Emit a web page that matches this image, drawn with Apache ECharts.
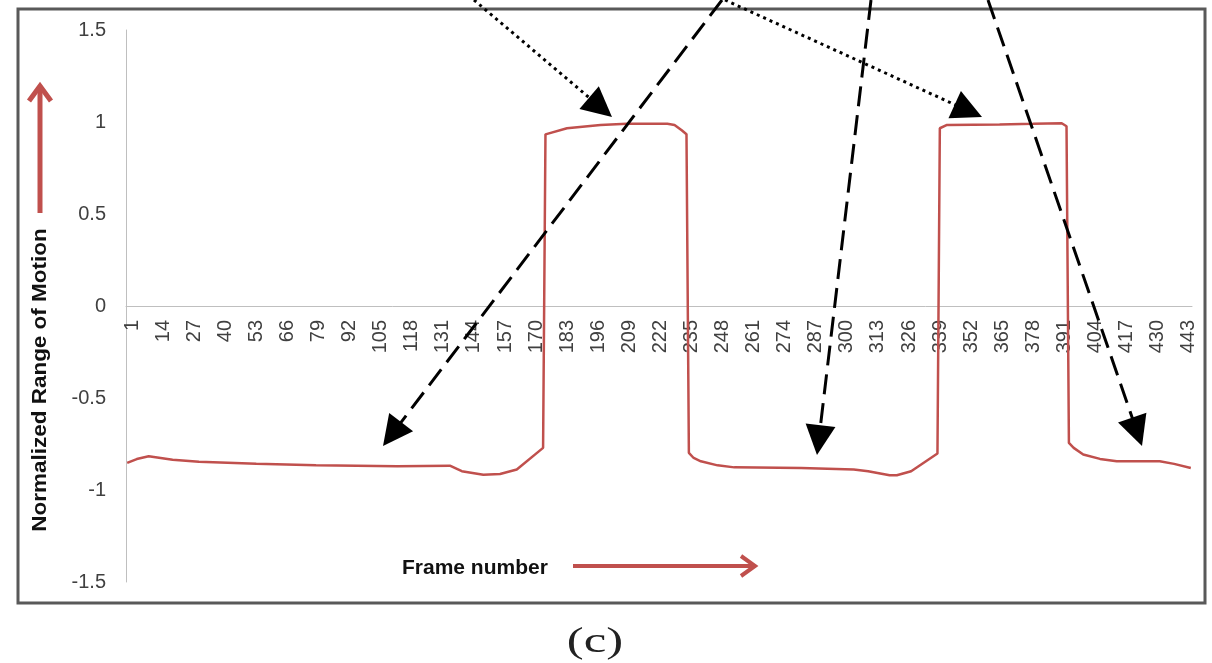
<!DOCTYPE html>
<html>
<head>
<meta charset="utf-8">
<script src="https://cdn.jsdelivr.net/npm/echarts@6/dist/echarts.min.js"></script>
<style>
  html, body { margin: 0; padding: 0; background: #ffffff; }
  #chart { width: 1212px; height: 663px; }
</style>
</head>
<body>
<div id="chart"></div>
<script>
// ---- data ----
const frameCount = 446;
const categories = Array.from({ length: frameCount }, (_, i) => String(i + 1));
const keyFrames = [1, 5, 10, 20, 31, 55, 80, 114, 136, 141,
  150, 157, 164, 175, 176, 185, 199, 210, 227, 230,
  233, 235, 236, 238, 241, 248, 255, 283, 305, 311,
  320, 323, 329, 340, 341, 344, 366, 380, 392, 394,
  395, 397, 401, 408, 415, 433, 439, 446];
const rangeOfMotion = [-0.853, -0.832, -0.817, -0.835, -0.847, -0.858, -0.866, -0.871, -0.868, -0.898,
  -0.917, -0.913, -0.889, -0.771, 0.933, 0.966, 0.984, 0.99, 0.99, 0.984,
  0.955, 0.933, -0.798, -0.826, -0.844, -0.866, -0.877, -0.88, -0.889, -0.898,
  -0.92, -0.92, -0.898, -0.802, 0.966, 0.984, 0.987, 0.99, 0.993, 0.977,
  -0.744, -0.771, -0.807, -0.831, -0.844, -0.844, -0.858, -0.88];
const yMin = -1.5, yMax = 1.5, yStep = 0.5;
const xLabelEvery = 13;
const yTitle = 'Normalized Range of Motion';
const xTitle = 'Frame number';
const panelLabel = '(c)';

// ---- layout ----
const gridBox = { left: 126, right: 20, top: 30, bottom: 81 };
const chartH = 663;
const plotH = chartH - gridBox.top - gridBox.bottom;
// x axis crosses the value axis at 0: lift the bottom axis up to that level
const xAxisLift = -plotH * (0 - yMin) / (yMax - yMin);

// ---- annotation overlays (decorative arrows from the figure) ----
const blackArrows = [
  { from: [474, 0], to: [612, 117], style: 'dotted' },
  { from: [725, 0], to: [982, 117], style: 'dotted' },
  { from: [722, 0], to: [383, 446], style: 'dashed' },
  { from: [871, 0], to: [817, 455], style: 'dashed' },
  { from: [988, 0], to: [1142, 446], style: 'dashed' }
];

function solidHeadArrow(a) {
  const [x1, y1] = a.from, [x2, y2] = a.to;
  const dx = x2 - x1, dy = y2 - y1, L = Math.hypot(dx, dy);
  const ux = dx / L, uy = dy / L, hl = 30, hw = 15;
  const bx = x2 - ux * hl, by = y2 - uy * hl;
  const dash = a.style === 'dotted' ? [3, 4] : [20, 9];
  return [
    { type: 'line', z: 50, shape: { x1, y1, x2: bx + ux * 4, y2: by + uy * 4 },
      style: { stroke: '#000', lineWidth: 3, lineDash: dash } },
    { type: 'polygon', z: 51, shape: { points: [[x2, y2], [bx - uy * hw, by + ux * hw], [bx + uy * hw, by - ux * hw]] },
      style: { fill: '#000' } }
  ];
}
function openHeadArrow(from, to, width, hl, hw, color) {
  const [x1, y1] = from, [x2, y2] = to;
  const dx = x2 - x1, dy = y2 - y1, L = Math.hypot(dx, dy);
  const ux = dx / L, uy = dy / L;
  const bx = x2 - ux * hl, by = y2 - uy * hl;
  return [
    { type: 'line', z: 50, shape: { x1, y1, x2: x2 - ux * 2, y2: y2 - uy * 2 },
      style: { stroke: color, lineWidth: width } },
    { type: 'polyline', z: 50, shape: { points: [[bx - uy * hw, by + ux * hw], [x2, y2], [bx + uy * hw, by - ux * hw]] },
      style: { stroke: color, lineWidth: width, lineJoin: 'miter', fill: null } }
  ];
}

const graphics = [
  { type: 'rect', z: 40, shape: { x: 18, y: 9, width: 1187, height: 594 },
    style: { fill: null, stroke: '#595959', lineWidth: 3 } },
  { type: 'text', z: 50, x: 40, y: 380, rotation: Math.PI / 2, scaleX: 1.07,
    style: { text: yTitle, font: 'bold 21px "Liberation Sans", Arial, sans-serif', fill: '#111', align: 'center', verticalAlign: 'middle' } },
  { type: 'text', z: 50, x: 402, y: 568,
    style: { text: xTitle, font: 'bold 21px "Liberation Sans", Arial, sans-serif', fill: '#111', align: 'left', verticalAlign: 'middle' } },
  { type: 'text', z: 50, x: 595, y: 643, scaleX: 1.45,
    style: { text: panelLabel, font: '35px "Liberation Serif", serif', fill: '#222', align: 'center', verticalAlign: 'middle' } }
]
  .concat(openHeadArrow([40, 213], [40, 86], 5, 15, 11, '#c0504d'))
  .concat(openHeadArrow([573, 566], [755, 566], 4, 14, 10, '#c0504d'));
blackArrows.forEach(a => { solidHeadArrow(a).forEach(g => graphics.push(g)); });

const chart = echarts.init(document.getElementById('chart'), null, { renderer: 'canvas' });
chart.setOption({
  animation: false,
  backgroundColor: '#ffffff',
  grid: Object.assign({ containLabel: false }, gridBox),
  xAxis: {
    type: 'category',
    data: categories,
    boundaryGap: true,
    position: 'bottom',
    offset: xAxisLift,
    axisLine: { onZero: false, lineStyle: { color: '#bfbfbf', width: 1 } },
    axisTick: { show: false },
    splitLine: { show: false },
    axisLabel: {
      interval: xLabelEvery - 1, rotate: 90, margin: 14,
      verticalAlign: 'top', lineHeight: 10,
      fontSize: 20, color: '#404040', fontFamily: '"Liberation Sans", Arial, sans-serif'
    }
  },
  yAxis: {
    type: 'value', min: yMin, max: yMax, interval: yStep,
    axisLine: { show: true, lineStyle: { color: '#bfbfbf', width: 1 } },
    axisTick: { show: false },
    splitLine: { show: false },
    axisLabel: { margin: 20, fontSize: 20, color: '#404040', fontFamily: '"Liberation Sans", Arial, sans-serif' }
  },
  series: [{
    type: 'line',
    data: keyFrames.map((f, i) => [f - 1, rangeOfMotion[i]]),
    showSymbol: false,
    symbol: 'none',
    lineStyle: { color: '#c0504d', width: 2.5 },
    z: 10
  }],
  graphic: { elements: graphics }
});
</script>
</body>
</html>
